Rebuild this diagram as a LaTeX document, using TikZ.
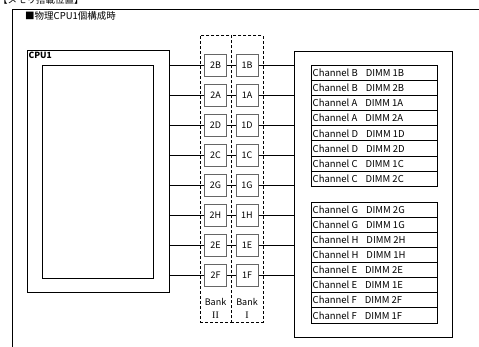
\documentclass[tikz,border=0pt]{standalone}
\usepackage{fontspec}
\setmainfont{Noto Sans CJK JP}
\newfontfamily\romfont{Liberation Serif}
\begin{document}
\begin{tikzpicture}[x=1pt,y=-1pt,
  conn/.style={line width=1.6pt},
  frameline/.style={line width=0.8pt},
  plainbox/.style={draw, line width=0.8pt, inner sep=0pt, anchor=north west},
  bankbox/.style={draw=black!60, line width=1pt, fill=white, minimum width=22pt, minimum height=22pt, inner sep=0pt, font=\fontsize{9}{10}\selectfont},
  bankcol/.style={draw, line width=0.7pt, dash pattern=on 3pt off 2pt, inner sep=0pt, anchor=north west},
  dimmrow/.style={draw, line width=0.8pt, minimum width=126pt, minimum height=15.1pt, inner sep=0pt, anchor=north west},
  lbl/.style={inner sep=0pt, font=\fontsize{9}{10}\selectfont},
  dtxt/.style={inner sep=0pt, anchor=west, font=\fontsize{9.5}{10}\selectfont}
]
\useasboundingbox (0,0) rectangle (479,347);
% frame
\node[lbl, anchor=west, font=\fontsize{9.5}{10}\selectfont] (title) at (-2,0) {【メモリ搭載位置】};
\coordinate (ftl) at (12,9);
\coordinate (ftr) at (479,9);
\coordinate (fbl) at (12,347);
\draw[frameline] (ftr) -- (ftl) -- (fbl);
\node[lbl, anchor=west, font=\fontsize{9.5}{10}\selectfont] (sub) at (25,16) {■物理CPU1個構成時};
% CPU
\node[plainbox, minimum width=142pt, minimum height=242pt] (cpu) at (27,50) {};
\node[plainbox, minimum width=111pt, minimum height=213pt] (cpuin) at (42,65) {};
\node[lbl, anchor=north west, font=\fontsize{8.5}{9}\selectfont\bfseries] (cpulbl) at (28.5,52) {CPU1};
% bank columns
\node[bankcol, minimum width=31pt, minimum height=287pt] (bank2) at (200,35) {};
\node[bankcol, minimum width=31.5pt, minimum height=287pt] (bank1) at (231,35) {};
\node[lbl] (bk2) at (215.5,302) {Bank};
\node[lbl] (bk1) at (247,302) {Bank};
\node[lbl, font=\fontsize{10}{10}\romfont] (rn2) at (215.5,315.5) {II};
\node[lbl, font=\fontsize{10}{10}\romfont] (rn1) at (247,315.5) {I};
% DIMM box
\node[plainbox, minimum width=158pt, minimum height=286pt] (dimm) at (294,51) {};
% rows
\foreach \k/\n in {0/B,1/A,2/D,3/C,4/G,5/H,6/E,7/F}{
  \node[bankbox] (b2\n) at (215.5,{65.5+30*\k}) {2\n};
  \node[bankbox] (b1\n) at (247,{65.5+30*\k}) {1\n};
  \draw[conn] (cpu.east |- b2\n.west) -- (b2\n.west);
  \draw[conn] (b2\n.east) -- (b1\n.west);
  \draw[conn] (b1\n.east) -- (dimm.west |- b1\n.east);
}
% DIMM tables
\foreach \k/\t in {0/Channel B\hspace{8pt}DIMM 1B,1/Channel B\hspace{8pt}DIMM 2B,2/Channel A\hspace{8pt}DIMM 1A,3/Channel A\hspace{8pt}DIMM 2A,4/Channel D\hspace{8pt}DIMM 1D,5/Channel D\hspace{8pt}DIMM 2D,6/Channel C\hspace{8pt}DIMM 1C,7/Channel C\hspace{8pt}DIMM 2C}{
  \node[dimmrow] (u\k) at (311,{65+15.1*\k}) {};
  \node[dtxt] (ut\k) at ([xshift=1.5pt]u\k.west) {\t};
}
\foreach \k/\t in {0/Channel G\hspace{8pt}DIMM 2G,1/Channel G\hspace{8pt}DIMM 1G,2/Channel H\hspace{8pt}DIMM 2H,3/Channel H\hspace{8pt}DIMM 1H,4/Channel E\hspace{8pt}DIMM 2E,5/Channel E\hspace{8pt}DIMM 1E,6/Channel F\hspace{8pt}DIMM 2F,7/Channel F\hspace{8pt}DIMM 1F}{
  \node[dimmrow] (l\k) at (311,{201.7+15.1*\k}) {};
  \node[dtxt] (lt\k) at ([xshift=1.5pt]l\k.west) {\t};
}
\end{tikzpicture}
\end{document}
